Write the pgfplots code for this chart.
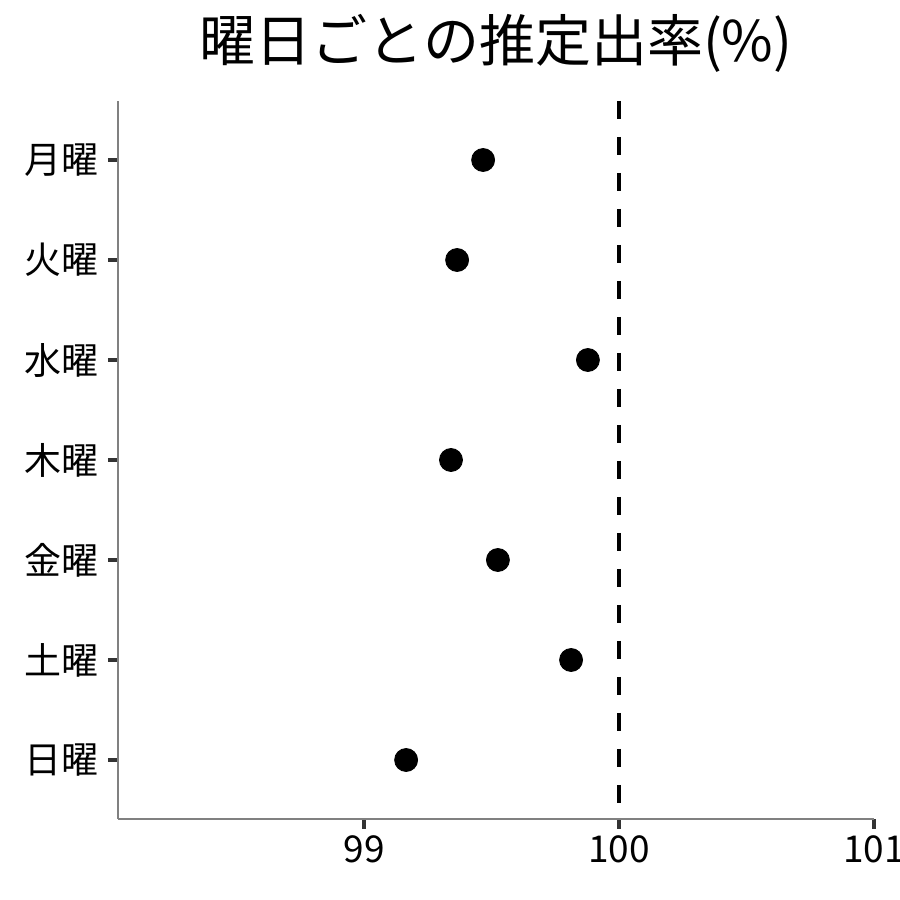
\documentclass[border=0pt]{standalone}
\usepackage{pgfplots}
\pgfplotsset{compat=1.18}
\usepackage{fontspec}
\setmainfont{Noto Sans CJK JP}
\definecolor{axisgray}{RGB}{128,128,128}
\definecolor{tickgray}{RGB}{51,51,51}
\begin{document}
\begin{tikzpicture}[x=1pt,y=1pt]
\path[use as bounding box] (-59,-40.5) rectangle (391,409.5);
\begin{axis}[at={(0,0)}, anchor=south west,
  scale only axis, width=378pt, height=359pt,
  xmin=98.035, xmax=101, ymin=0.41, ymax=7.59,
  axis x line*=bottom, axis y line*=left,
  axis line style={draw=axisgray, line width=0.7pt, -},
  xtick={99,100,101}, ytick={1,...,7},
  yticklabels={日曜,土曜,金曜,木曜,水曜,火曜,月曜},
  major tick style={draw=tickgray, line width=2.2pt},
  major tick length=5pt, tick align=outside,
  /pgf/number format/assume math mode=true,
  ticklabel style={font=\fontsize{18.5pt}{20pt}\selectfont},
  yticklabel style={xshift=-1.2pt},
  title={曜日ごとの推定出率(\%)},
  title style={font=\fontsize{28pt}{32pt}\selectfont, yshift=4.5pt},
  clip=false]
\addplot[black, line width=2pt, dash pattern=on 9pt off 9pt] coordinates {(100,7.59) (100,0.41)};
\addplot[only marks, mark=*, mark size=5.75pt, black] coordinates {
  (99.467,7) (99.365,6) (99.878,5) (99.341,4) (99.525,3) (99.812,2) (99.165,1)};
\end{axis}
\end{tikzpicture}
\end{document}
